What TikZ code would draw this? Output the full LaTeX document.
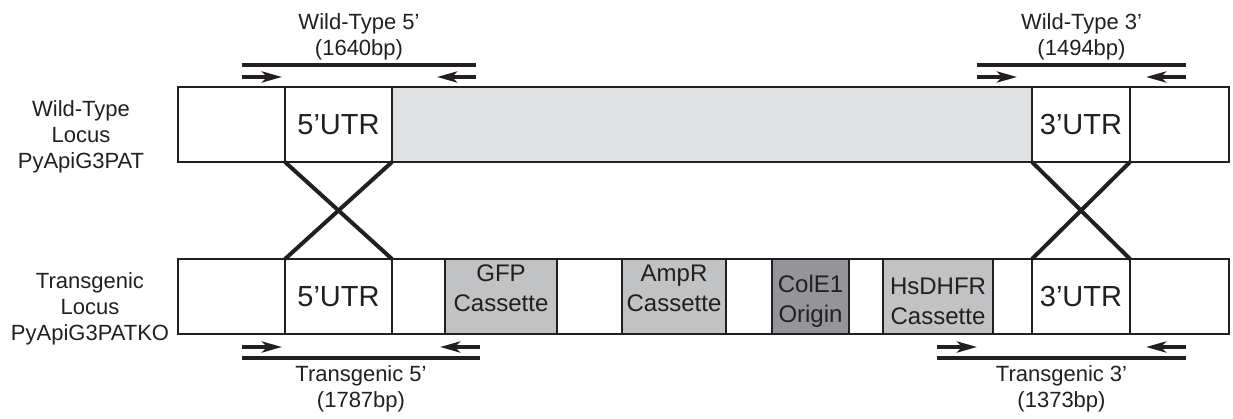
\documentclass[tikz,border=0pt]{standalone}
\usepackage{fontspec}
\setmainfont{Liberation Sans}
\usetikzlibrary{positioning,arrows.meta}
\definecolor{ink}{HTML}{231F20}
\definecolor{genegrey}{HTML}{E1E2E3}
\definecolor{cassgrey}{HTML}{C1C2C4}
\definecolor{origrey}{HTML}{939598}

\begin{document}
\begin{tikzpicture}[x=1pt,y=-1pt,
    seg/.style={draw=ink,line width=2pt,fill=white,minimum height=75pt,inner sep=0pt,outer sep=0pt,text=ink,font=\fontsize{29}{34}\selectfont},
    lbl/.style={text=ink,align=center,inner sep=0pt,font=\fontsize{22}{26}\selectfont},
    ctext/.style={text=ink,align=center,inner sep=0pt,anchor=north,font=\fontsize{24}{30}\selectfont},
    amplicon/.style={ink,line width=4pt},
    primer/.style={ink,line width=4pt,-{Stealth[length=20pt,width=11pt,inset=5pt]}},
    cross/.style={ink,line width=4pt}]
  \useasboundingbox (0,0) rectangle (1233,419);

  % wild-type locus
  \node[seg,minimum width=107pt,anchor=north west] (wtl) at (178,87) {};
  \node[seg,minimum width=107pt,right=0pt of wtl] (wt5) {5'UTR};
  \node[seg,minimum width=640pt,fill=genegrey,right=0pt of wt5] (wtgene) {};
  \node[seg,minimum width=98pt,right=0pt of wtgene] (wt3) {3'UTR};
  \node[seg,minimum width=99pt,right=0pt of wt3] (wtr) {};

  % transgenic locus
  \node[seg,minimum width=107pt,anchor=north west] (tgl) at (178,259) {};
  \node[seg,minimum width=107pt,right=0pt of tgl] (tg5) {5'UTR};
  \node[seg,minimum width=53pt,right=0pt of tg5] (tga) {};
  \node[seg,minimum width=112pt,fill=cassgrey,right=0pt of tga] (gfp) {};
  \node[seg,minimum width=65pt,right=0pt of gfp] (tgb) {};
  \node[seg,minimum width=104pt,fill=cassgrey,right=0pt of tgb] (ampr) {};
  \node[seg,minimum width=46pt,right=0pt of ampr] (tgc) {};
  \node[seg,minimum width=77pt,fill=origrey,right=0pt of tgc] (cole) {};
  \node[seg,minimum width=34pt,right=0pt of cole] (tgd) {};
  \node[seg,minimum width=110pt,fill=cassgrey,right=0pt of tgd] (hsdhfr) {};
  \node[seg,minimum width=39pt,right=0pt of hsdhfr] (tge) {};
  \node[seg,minimum width=98pt,right=0pt of tge] (tg3) {3'UTR};
  \node[seg,minimum width=99pt,right=0pt of tg3] (tgr) {};

  \node[ctext] (gfptext) at ([yshift=-6pt]gfp.north) {GFP\\Cassette};
  \node[ctext] (amprtext) at ([yshift=-6pt]ampr.north) {AmpR\\Cassette};
  \node[ctext] (coletext) at ([yshift=-16pt]cole.north) {ColE1\\Origin};
  \node[ctext] (hstext) at ([yshift=-19pt]hsdhfr.north) {HsDHFR\\Cassette};

  \node[lbl,anchor=north] (wtname) at (81,100) {Wild-Type\\Locus\\PyApiG3PAT};
  \node[lbl,anchor=north] (tgname) at (90,272) {Transgenic\\Locus\\PyApiG3PATKO};

  % crossovers
  \draw[cross] (wt5.south west) -- (tg5.north east);
  \draw[cross] (wt5.south east) -- (tg5.north west);
  \draw[cross] (wt3.south west) -- (tg3.north east);
  \draw[cross] (wt3.south east) -- (tg3.north west);

  % PCR products
  \draw[amplicon] (242,65) -- (476,65) node[lbl,midway,above=3pt] {Wild-Type 5'\\(1640bp)};
  \draw[primer] (242,77) -- (282,77);
  \draw[primer] (476,77) -- (437,77);
  \draw[amplicon] (977,65) -- (1186,65) node[lbl,midway,above=3pt] {Wild-Type 3'\\(1494bp)};
  \draw[primer] (977,77) -- (1017,77);
  \draw[primer] (1186,77) -- (1146,77);
  \draw[amplicon] (242,358) -- (480,358) node[lbl,midway,below=6pt] {Transgenic 5'\\(1787bp)};
  \draw[primer] (242,347) -- (282,347);
  \draw[primer] (480,347) -- (440,347);
  \draw[amplicon] (937,358) -- (1186,358) node[lbl,midway,below=6pt] {Transgenic 3'\\(1373bp)};
  \draw[primer] (937,347) -- (977,347);
  \draw[primer] (1186,347) -- (1146,347);
\end{tikzpicture}
\end{document}
